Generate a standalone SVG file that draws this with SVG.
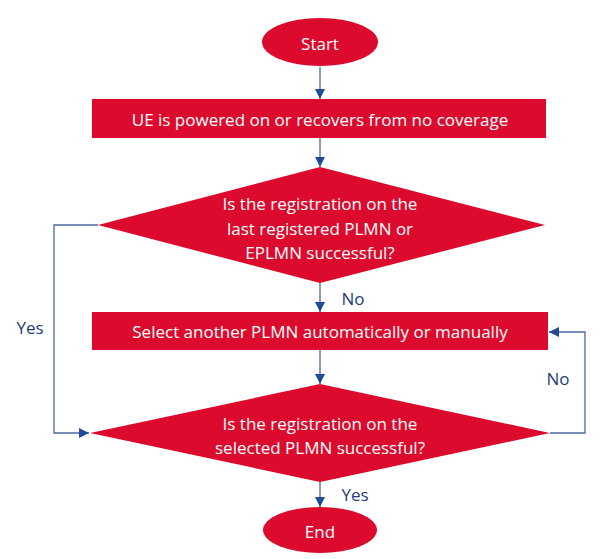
<svg xmlns="http://www.w3.org/2000/svg" width="600" height="559" viewBox="0 0 600 559">
<style>
.shape{fill:#DC0A2D;}
.t{font-family:"Open Sans","Noto Sans",sans-serif;font-size:17px;fill:#ffffff;text-anchor:middle;dominant-baseline:central;}
.lbl{font-family:"Open Sans","Noto Sans",sans-serif;font-size:17px;fill:#1F3C78;text-anchor:middle;dominant-baseline:central;}
.c{fill:none;stroke:#4A68A0;stroke-width:1.3;}
</style>
<defs>
<marker id="ah" viewBox="0 0 10 10" refX="10" refY="5" markerWidth="10" markerHeight="10" markerUnits="userSpaceOnUse" orient="auto">
<path d="M0,0 L10,5 L0,10 Z" fill="#1F4A96"/>
</marker>
</defs>
<rect width="600" height="559" fill="#ffffff"/>
<g id="connectors">
<line class="c" x1="320" y1="67" x2="320" y2="99" marker-end="url(#ah)"/>
<line class="c" x1="320" y1="138" x2="320" y2="167" marker-end="url(#ah)"/>
<line class="c" x1="320" y1="283" x2="320" y2="312" marker-end="url(#ah)"/>
<line class="c" x1="320" y1="350" x2="320" y2="384" marker-end="url(#ah)"/>
<line class="c" x1="320" y1="482" x2="320" y2="507" marker-end="url(#ah)"/>
<polyline class="c" points="98,225 54,225 54,433 89,433" marker-end="url(#ah)"/>
<polyline class="c" points="550,433 585,433 585,332 549,332" marker-end="url(#ah)"/>
<text class="lbl" x="353" y="298">No</text>
<text class="lbl" x="30" y="327">Yes</text>
<text class="lbl" x="558" y="378">No</text>
<text class="lbl" x="355" y="494">Yes</text>
</g>
<g id="start">
<ellipse class="shape" cx="320" cy="42" rx="58" ry="24"/>
<text class="t" x="320" y="43">Start</text>
</g>
<g id="powered">
<rect class="shape" x="92" y="99" width="454" height="39"/>
<text class="t" x="320" y="119">UE is powered on or recovers from no coverage</text>
</g>
<g id="decision1">
<polygon class="shape" points="320,167 545,225 320,283 98,225"/>
<text class="t" x="320" y="203">Is the registration on the</text>
<text class="t" x="320" y="228">last registered PLMN or</text>
<text class="t" x="320" y="252">EPLMN successful?</text>
</g>
<g id="select">
<rect class="shape" x="92" y="312" width="456" height="38"/>
<text class="t" x="320" y="331">Select another PLMN automatically or manually</text>
</g>
<g id="decision2">
<polygon class="shape" points="320,384 550,433 320,482 90,433"/>
<text class="t" x="320" y="423">Is the registration on the</text>
<text class="t" x="320" y="447">selected PLMN successful?</text>
</g>
<g id="end">
<ellipse class="shape" cx="320" cy="530" rx="57" ry="23"/>
<text class="t" x="320" y="531">End</text>
</g>
</svg>
